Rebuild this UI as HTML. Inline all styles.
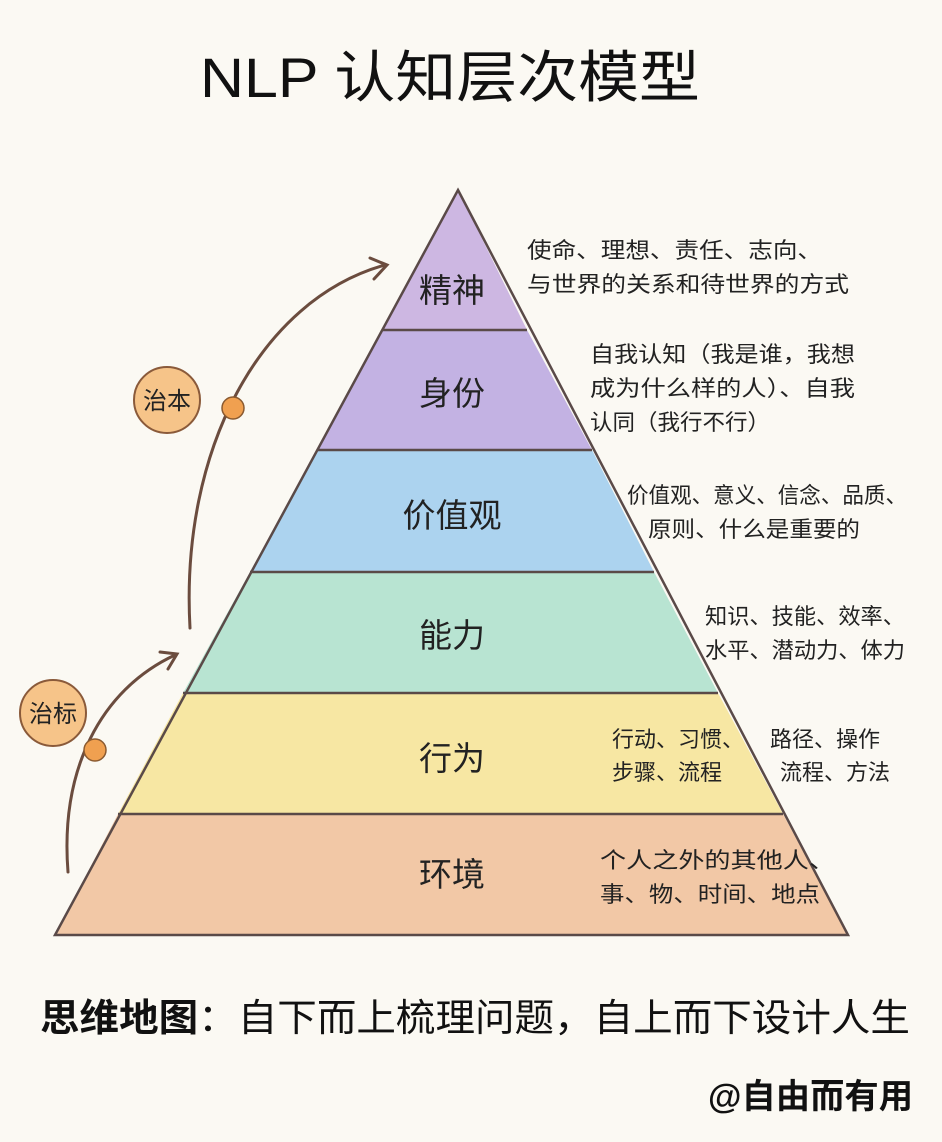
<!DOCTYPE html>
<html><head><meta charset="utf-8"><style>
body{margin:0;background:#fbf9f3;}
</style></head><body>
<svg width="942" height="1142" viewBox="0 0 942 1142" xmlns="http://www.w3.org/2000/svg" style="display:block">
<rect width="942" height="1142" fill="#fbf9f3"/>
<g font-family="Liberation Sans, Noto Sans CJK SC, sans-serif">
<text x="200" y="97" font-size="56" textLength="500" lengthAdjust="spacingAndGlyphs" fill="#111">NLP 认知层次模型</text>
<polygon points="458,190 527,330 383,330" fill="#cdb7e2"/>
<polygon points="383,330 527,330 592,450 317,450" fill="#c3b2e3"/>
<polygon points="317,450 592,450 654,572 250,572" fill="#acd3ef"/>
<polygon points="250,572 654,572 718,693 183,693" fill="#b8e4d2"/>
<polygon points="183,693 718,693 783,814 118,814" fill="#f7e7a3"/>
<polygon points="118,814 783,814 848,935 55,935" fill="#f2c8a6"/>
<g stroke="#5a4a48" stroke-width="2.5" fill="none">
<polygon points="458,190 848,935 55,935"/>
<line x1="383" y1="330" x2="527" y2="330"/>
<line x1="317" y1="450" x2="592" y2="450"/>
<line x1="250" y1="572" x2="654" y2="572"/>
<line x1="183" y1="693" x2="718" y2="693"/>
<line x1="118" y1="814" x2="783" y2="814"/>
</g>
<g font-size="33" fill="#222" text-anchor="middle">
<text x="452" y="302">精神</text>
<text x="452" y="405">身份</text>
<text x="452" y="527">价值观</text>
<text x="452" y="647">能力</text>
<text x="452" y="770">行为</text>
<text x="452" y="886">环境</text>
</g>
<g font-size="22" fill="#222">
<text x="527" y="258" textLength="295" lengthAdjust="spacingAndGlyphs">使命、理想、责任、志向、</text>
<text x="527" y="292" textLength="322" lengthAdjust="spacingAndGlyphs">与世界的关系和待世界的方式</text>
<text x="590" y="362" textLength="265" lengthAdjust="spacingAndGlyphs">自我认知（我是谁，我想</text>
<text x="590" y="396" textLength="265" lengthAdjust="spacingAndGlyphs">成为什么样的人）、自我</text>
<text x="590" y="430" textLength="180" lengthAdjust="spacingAndGlyphs">认同（我行不行）</text>
<text x="627" y="503" textLength="280" lengthAdjust="spacingAndGlyphs">价值观、意义、信念、品质、</text>
<text x="648" y="537" textLength="212" lengthAdjust="spacingAndGlyphs">原则、什么是重要的</text>
<text x="705" y="624" textLength="200" lengthAdjust="spacingAndGlyphs">知识、技能、效率、</text>
<text x="705" y="658" textLength="200" lengthAdjust="spacingAndGlyphs">水平、潜动力、体力</text>
<text x="612" y="747">行动、习惯、</text>
<text x="612" y="780">步骤、流程</text>
<text x="770" y="747">路径、操作</text>
<text x="780" y="780">流程、方法</text>
<text x="600" y="868" textLength="235" lengthAdjust="spacingAndGlyphs">个人之外的其他人、</text>
<text x="600" y="902" textLength="220" lengthAdjust="spacingAndGlyphs">事、物、时间、地点</text>
</g>
<g stroke="#6b4c3e" stroke-width="3" fill="none" stroke-linecap="round">
<path d="M190,628 C180,450 260,300 385,265"/>
<path d="M370,258 L387,265 L374,279"/>
<path d="M68,872 C60,770 100,690 175,655"/>
<path d="M160,652 L177,654 L168,669"/>
</g>
<circle cx="233" cy="408" r="11" fill="#f0a050" stroke="#8a5a30" stroke-width="1.5"/>
<circle cx="95" cy="750" r="11" fill="#f0a050" stroke="#8a5a30" stroke-width="1.5"/>
<circle cx="167" cy="400" r="33" fill="#f6c489" stroke="#8a5a3a" stroke-width="2"/>
<circle cx="53" cy="713" r="33" fill="#f6c489" stroke="#8a5a3a" stroke-width="2"/>
<text x="167" y="409" font-size="24" text-anchor="middle" fill="#222">治本</text>
<text x="53" y="722" font-size="24" text-anchor="middle" fill="#222">治标</text>
<text x="40" y="1031" font-size="38" textLength="870" lengthAdjust="spacingAndGlyphs" fill="#111"><tspan font-weight="bold">思维地图</tspan>：自下而上梳理问题，自上而下设计人生</text>
<text x="708" y="1108" font-size="34" font-weight="bold" textLength="205" lengthAdjust="spacingAndGlyphs" fill="#111">@自由而有用</text>
</g>
</svg>
</body></html>
